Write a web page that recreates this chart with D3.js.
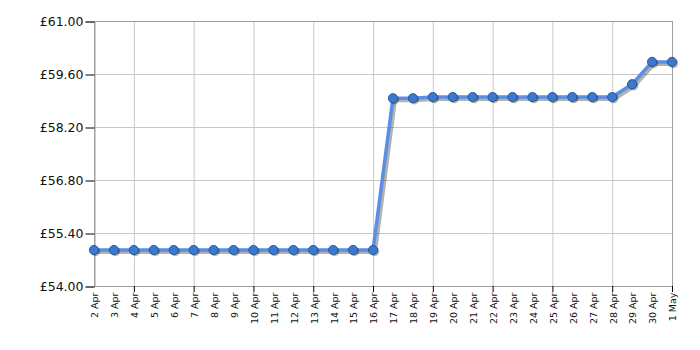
<!DOCTYPE html>
<html><head><meta charset="utf-8">
<script src="https://cdn.jsdelivr.net/npm/d3@7"></script>
<style>body{margin:0;background:#fff}svg{display:block}</style>
</head><body>
<svg id="c" width="700" height="350"></svg>
<script>
const dates = ["2 Apr","3 Apr","4 Apr","5 Apr","6 Apr","7 Apr","8 Apr","9 Apr","10 Apr","11 Apr","12 Apr","13 Apr","14 Apr","15 Apr","16 Apr","17 Apr","18 Apr","19 Apr","20 Apr","21 Apr","22 Apr","23 Apr","24 Apr","25 Apr","26 Apr","27 Apr","28 Apr","29 Apr","30 Apr","1 May"];
const prices = [54.95,54.95,54.95,54.95,54.95,54.95,54.95,54.95,54.95,54.95,54.95,54.95,54.95,54.95,54.95,58.96,58.96,58.99,58.99,58.99,58.99,58.99,58.99,58.99,58.99,58.99,58.99,59.33,59.92,59.92];
const yTicks = [54.0,55.4,56.8,58.2,59.6,61.0];

const svg = d3.select("#c");
const L=94, R=672, T=21, B=286;
const x = d3.scalePoint().domain(dates).range([L,R]);
const y = d3.scaleLinear().domain([54,61]).range([B,T]);
const gridDates = dates.filter((d,i)=> (dates.length-1-i)%3===0);

// grid
svg.append("g").selectAll("line").data(gridDates).join("line")
  .attr("x1",d=>x(d)+0.5).attr("x2",d=>x(d)+0.5).attr("y1",T).attr("y2",B)
  .attr("stroke","#c8c8c8").attr("stroke-width",1);
svg.append("g").selectAll("line").data(yTicks).join("line")
  .attr("x1",L).attr("x2",R).attr("y1",d=>Math.round(y(d))+0.5).attr("y2",d=>Math.round(y(d))+0.5)
  .attr("stroke","#c8c8c8").attr("stroke-width",1);
// frame
svg.append("rect").attr("x",L+0.5).attr("y",T+0.5).attr("width",R-L).attr("height",B-T)
  .attr("fill","none").attr("stroke","#a0a0a0");

// y axis
const ya = svg.append("g").attr("transform",`translate(${L+0.5},0.5)`)
  .call(d3.axisLeft(y).tickValues(yTicks).tickSize(9).tickPadding(2).tickFormat(d=>"£"+d.toFixed(2)));
ya.select(".domain").attr("stroke","#a0a0a0");
ya.selectAll(".tick line").attr("stroke","#000");
ya.selectAll("text").attr("font-family","DejaVu Sans, Verdana, sans-serif").attr("font-size","12.5px").attr("fill","#111");

// x axis
const xa = svg.append("g").attr("transform",`translate(0.5,${B+0.5})`)
  .call(d3.axisBottom(x).tickSize(0).tickFormat(d=>d));
xa.select(".domain").remove();
xa.selectAll(".tick text")
  .attr("font-family","DejaVu Sans, Verdana, sans-serif").attr("font-size","9.5px").attr("fill","#111")
  .attr("transform","rotate(-90)").attr("text-anchor","end").attr("x",-6).attr("y",0).attr("dy","0.35em");
svg.append("g").selectAll("line").data(gridDates).join("line")
  .attr("x1",d=>x(d)+0.5).attr("x2",d=>x(d)+0.5).attr("y1",B).attr("y2",B+6)
  .attr("stroke","#000");

// line shadow
const line = d3.line().x((d,i)=>x(dates[i])).y(d=>y(d));
svg.append("path").datum(prices).attr("d",line).attr("fill","none")
  .attr("stroke","#000").attr("stroke-opacity",0.3).attr("stroke-width",4)
  .attr("transform","translate(2,2)").attr("stroke-linejoin","round");
svg.append("path").datum(prices).attr("d",line).attr("fill","none")
  .attr("stroke","#5a8fe3").attr("stroke-width",3.5).attr("stroke-linejoin","round");
// point shadows
svg.append("g").selectAll("circle").data(prices).join("circle")
  .attr("cx",(d,i)=>x(dates[i])+1.5).attr("cy",d=>y(d)+1.5).attr("r",4.7)
  .attr("fill","#000").attr("fill-opacity",0.3);
svg.append("g").selectAll("circle").data(prices).join("circle")
  .attr("cx",(d,i)=>x(dates[i])).attr("cy",d=>y(d)).attr("r",4.6)
  .attr("fill","#3d78cf").attr("stroke","#1f4f96").attr("stroke-width",0.9);
</script>
</body></html>
